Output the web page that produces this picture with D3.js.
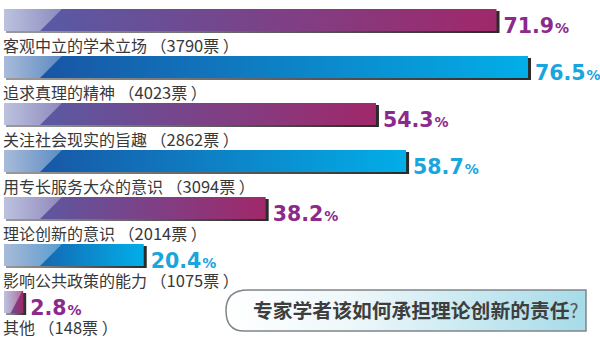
<!DOCTYPE html>
<html>
<head>
<meta charset="utf-8">
<script src="https://cdn.jsdelivr.net/npm/d3@7/dist/d3.min.js"></script>
<style>
  html, body { margin: 0; padding: 0; background: #fff; }
  svg { display: block; }
</style>
</head>
<body>
<svg id="chart" width="600" height="343"></svg>
<script>
// Survey: how should experts and scholars take on the duty of theoretical innovation?
const categories = [
  "客观中立的学术立场",
  "追求真理的精神",
  "关注社会现实的旨趣",
  "用专长服务大众的意识",
  "理论创新的意识",
  "影响公共政策的能力",
  "其他"
];
const votes = [3790, 4023, 2862, 3094, 2014, 1075, 148];
const percents = [71.9, 76.5, 54.3, 58.7, 38.2, 20.4, 2.8];
const palette = ["purple", "blue", "purple", "blue", "purple", "blue", "purple"];
const title = "专家学者该如何承担理论创新的责任";

const svg = d3.select("#chart");
const defs = svg.append("defs");

const x = d3.scaleLinear().domain([0, 100]).range([4, 689]);
const y = d3.scaleBand().domain(categories).range([9, 313]).paddingInner(0.532).paddingOuter(0);
const bh = y.bandwidth();

const scheme = {
  purple: { from: "#525fa9", to: "#a0286a", text: "#8c2a8c" },
  blue:   { from: "#1a4f9f", to: "#02aee8", text: "#19a5de" }
};

// Gradients for bars
["purple", "blue"].forEach(k => {
  const g = defs.append("linearGradient").attr("id", "grad-" + k)
    .attr("x1", 0).attr("x2", 1).attr("y1", 0).attr("y2", 0);
  g.append("stop").attr("offset", 0).attr("stop-color", scheme[k].from);
  g.append("stop").attr("offset", 1).attr("stop-color", scheme[k].to);
});
const gl = defs.append("linearGradient").attr("id", "grad-light")
  .attr("x1", 0).attr("x2", 1).attr("y1", 0).attr("y2", 0);
gl.append("stop").attr("offset", 0).attr("stop-color", "#fff").attr("stop-opacity", 0.62);
gl.append("stop").attr("offset", 1).attr("stop-color", "#fff").attr("stop-opacity", 0.3);

const gs = defs.append("linearGradient").attr("id", "grad-shadow")
  .attr("x1", 0).attr("x2", 1).attr("y1", 0).attr("y2", 0);
gs.append("stop").attr("offset", 0).attr("stop-color", "#9a9a9a");
gs.append("stop").attr("offset", 1).attr("stop-color", "#2a2a2a");

const rows = categories.map((c, i) => ({
  cat: c, votes: votes[i], pct: percents[i], kind: palette[i]
}));

const row = svg.selectAll("g.row").data(rows).join("g").attr("class", "row");

// shadow
row.append("rect")
  .attr("x", x(0) + 2)
  .attr("y", d => y(d.cat) + 2)
  .attr("width", d => x(d.pct) - x(0) + 1)
  .attr("height", bh)
  .attr("fill", "url(#grad-shadow)");

// bar body
row.append("rect")
  .attr("x", x(0))
  .attr("y", d => y(d.cat))
  .attr("width", d => x(d.pct) - x(0))
  .attr("height", bh)
  .attr("fill", d => `url(#grad-${d.kind})`);

// light diagonal panel on the left of each bar
row.append("path")
  .attr("fill", "url(#grad-light)")
  .attr("d", d => {
    const x0 = x(0), w = x(d.pct) - x0;
    const top = Math.min(58, w * 0.95), bot = Math.min(36, w * 0.35);
    const y0 = y(d.cat), y1 = y0 + bh;
    return `M${x0},${y0}L${x0 + top},${y0}L${x0 + bot},${y1}L${x0},${y1}Z`;
  });

// percentage labels
const pl = row.append("text")
  .attr("x", d => x(d.pct) + 7)
  .attr("y", d => y(d.cat) + bh + 2)
  .attr("fill", d => scheme[d.kind].text)
  .attr("font-family", "DejaVu Sans, sans-serif")
  .attr("font-weight", "bold");
pl.append("tspan").attr("font-size", 20.5).text(d => d.pct.toFixed(1));
pl.append("tspan").attr("font-size", 14).attr("dx", 1).text("%");

// category labels
const cl = row.append("text")
  .attr("x", 3)
  .attr("y", d => y(d.cat) + bh + 21)
  .attr("fill", "#383838")
  .attr("font-family", "Noto Sans CJK SC, sans-serif")
  .attr("font-size", 16);
cl.append("tspan").text(d => `${d.cat} （`);
cl.append("tspan").attr("font-size", 16.5).text(d => d.votes);
cl.append("tspan").text("票 ）");

// title box
const tg = defs.append("linearGradient").attr("id", "grad-title")
  .attr("x1", 0).attr("x2", 1).attr("y1", 0).attr("y2", 0);
tg.append("stop").attr("offset", 0).attr("stop-color", "#ffffff");
tg.append("stop").attr("offset", 0.35).attr("stop-color", "#eef7fa");
tg.append("stop").attr("offset", 1).attr("stop-color", "#a6dbe8");

const bx0 = 226, bx1 = 586, by0 = 290, by1 = 331;
svg.append("path")
  .attr("d", `M${bx0 + 22},${by0}L${bx1},${by0}L${bx1},${by1}L${bx0 + 18},${by1}` +
             `C${bx0 + 2},${by1} ${bx0},${by0 + 28} ${bx0},${(by0 + by1) / 2}` +
             `C${bx0},${by0 + 8} ${bx0 + 6},${by0} ${bx0 + 22},${by0}Z`)
  .attr("fill", "url(#grad-title)")
  .attr("stroke", "#7d8589")
  .attr("stroke-width", 1.5);

const tt = svg.append("text")
  .attr("x", 253)
  .attr("y", 318)
  .attr("fill", "#3e3e3e")
  .attr("font-family", "Noto Sans CJK SC, sans-serif");
tt.append("tspan").attr("font-size", 19.8).attr("font-weight", "bold").text(title);
tt.append("tspan").attr("font-size", 19).attr("font-weight", "normal").attr("fill", "#555").text("?");
</script>
</body>
</html>
